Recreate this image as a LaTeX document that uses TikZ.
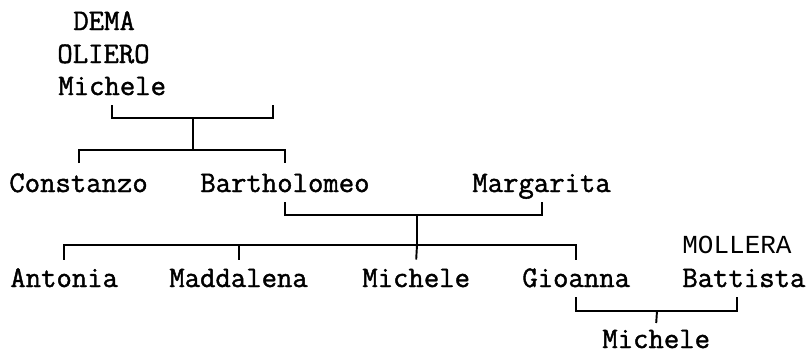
\documentclass[tikz,border=0pt]{standalone}
\usepackage{fontspec}
\newfontfamily\sansmono{Liberation Mono}
\newfontfamily\treemono[FakeBold=1.4]{Latin Modern Mono}
\usepackage{tikz}
\usetikzlibrary{positioning}

\begin{document}
\begin{tikzpicture}[
  x=0.02cm, y=-0.02cm,
  person/.style={inner sep=0pt, anchor=base west, font=\treemono\fontsize{17}{20}\selectfont},
  surname/.style={inner sep=0pt, anchor=base west, font=\sansmono\fontsize{14.8}{18}\selectfont},
  link/.style={draw, line width=1.1pt}
]
\useasboundingbox (0,0) rectangle (811,352);

% generation 1
\node[person] (dema) at (73,30) {DEMA};
\node[person] (oliero) at (57,63) {OLIERO};
\node[person] (michA) at (58,95) {Michele};
\coordinate (spouseA) at (273,105);

% generation 2
\node[person] (constanzo) at (9,192) {Constanzo};
\node[person] (bartholomeo) at (200,192) {Bartholomeo};
\node[person] (margarita) at (472,192) {Margarita};

% generation 3
\node[person] (antonia) at (10,287) {Antonia};
\node[person] (maddalena) at (169,287) {Maddalena};
\node[person] (michB) at (362,287) {Michele};
\node[person] (gioanna) at (522,287) {Gioanna};
\node[surname] (mollera) at (682,253) {MOLLERA};
\node[person] (battista) at (682,287) {Battista};

% generation 4
\node[person] (michC) at (602,348) {Michele};

% junctions
\coordinate (jA) at (193,118);
\coordinate (jB) at (193,150);
\coordinate (jC) at (417,215);
\coordinate (jD) at (417,245);
\coordinate (jE) at (657,311);

\draw[link] ([yshift=-0.2cm]michA.base) |- (jA) -| (spouseA);
\draw[link] (jA) -- (jB);
\draw[link] ([yshift=0.58cm]constanzo.base) |- (jB) -| ([yshift=0.58cm]bartholomeo.base);

\draw[link] ([yshift=-0.2cm]bartholomeo.base) |- (jC) -| ([yshift=-0.2cm]margarita.base);
\draw[link] (jC) -- (jD);
\draw[link] ([yshift=0.55cm]antonia.base) |- (jD) -| ([yshift=0.55cm]gioanna.base);
\draw[link] ([yshift=0.55cm]maddalena.base) -- (maddalena.base |- jD);
\draw[link] ([yshift=0.55cm]michB.base) -- (jD);

\draw[link] ([yshift=-0.2cm]gioanna.base) |- (jE) -| ([yshift=-0.2cm,xshift=-0.14cm]battista.base);
\draw[link] (jE) -- ([yshift=0.5cm]michC.base);
\end{tikzpicture}
\end{document}
